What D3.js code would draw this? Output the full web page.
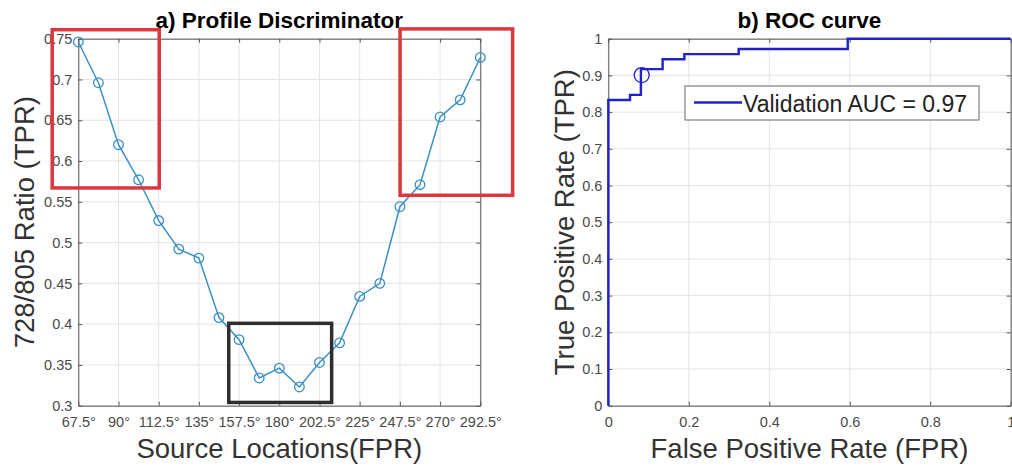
<!DOCTYPE html>
<html>
<head>
<meta charset="utf-8">
<script src="https://cdn.jsdelivr.net/npm/d3@7"></script>
<style>
  body { margin: 0; background: #fff; }
  svg { display: block; }
  text { font-family: "Liberation Sans", Arial, Helvetica, sans-serif; }
</style>
</head>
<body>
<svg id="fig" width="1012" height="468"></svg>
<script>
// ---- Panel a: 728/805 ratio per source location ----
const sourceAngles = [67.5, 78.75, 90, 101.25, 112.5, 123.75, 135, 146.25, 157.5, 168.75,
  180, 191.25, 202.5, 213.75, 225, 236.25, 247.5, 258.75, 270, 281.25, 292.5];
const ratioValues = [0.746, 0.696, 0.620, 0.577, 0.527, 0.492, 0.481, 0.408, 0.381, 0.334,
  0.346, 0.323, 0.353, 0.377, 0.434, 0.450, 0.544, 0.571, 0.654, 0.675, 0.727];
const angleTicks = [67.5, 90, 112.5, 135, 157.5, 180, 202.5, 225, 247.5, 270, 292.5];
const ratioTicks = [0.3, 0.35, 0.4, 0.45, 0.5, 0.55, 0.6, 0.65, 0.7, 0.75];

// highlighted regions (angle range, ratio range)
const regionAngles = [[52.9, 112.8], [247.6, 310.6], [151.7, 209.3]];
const regionRatios = [[0.567, 0.761], [0.558, 0.762], [0.304, 0.401]];
const regionKinds = ["edge", "edge", "centre"];

// ---- Panel b: ROC curve (step points) ----
const rocFpr = [0, 0, 0.054, 0.081, 0.135, 0.189, 0.324, 0.595, 1];
const rocTpr = [0, 0.833, 0.847, 0.917, 0.944, 0.958, 0.972, 1, 1];
const operatingFpr = [0.083];
const operatingTpr = [0.901];
const rateTicks = [0, 0.1, 0.2, 0.3, 0.4, 0.5, 0.6, 0.7, 0.8, 0.9, 1];
const fprTicks = [0, 0.2, 0.4, 0.6, 0.8, 1];
const legendLabels = ["Validation AUC = 0.97"];

const svg = d3.select("#fig");
svg.append("rect").attr("width", 1012).attr("height", 468).attr("fill", "#fff");

const AXIS = "#555", GRID = "#e4e4e4", TICKTXT = "#4a4a4a", LABEL = "#333";

function frame(g, x, y, xt, yt, xfmt, yfmt, title, xlab, ylab, ylabX) {
  const [x0, x1] = x.range(), [y1, y0] = y.range();
  // grid
  g.append("g").selectAll("line").data(xt).join("line")
    .attr("x1", d => x(d)).attr("x2", d => x(d)).attr("y1", y0).attr("y2", y1)
    .attr("stroke", GRID).attr("stroke-width", 1);
  g.append("g").selectAll("line").data(yt).join("line")
    .attr("x1", x0).attr("x2", x1).attr("y1", d => y(d)).attr("y2", d => y(d))
    .attr("stroke", GRID).attr("stroke-width", 1);

  const style = sel => {
    sel.select(".domain").attr("stroke", AXIS);
    sel.selectAll(".tick line").attr("stroke", AXIS);
    sel.selectAll(".tick text").attr("fill", TICKTXT).style("font-size", "14.5px")
      .style("font-family", '"Liberation Sans", Arial, sans-serif');
  };
  g.append("g").attr("transform", `translate(0,${y1})`)
    .call(d3.axisBottom(x).tickValues(xt).tickFormat(xfmt).tickSizeInner(-4).tickSizeOuter(0).tickPadding(11))
    .call(style);
  g.append("g").attr("transform", `translate(0,${y0})`)
    .call(d3.axisTop(x).tickValues(xt).tickFormat("").tickSizeInner(-4).tickSizeOuter(0))
    .call(style);
  g.append("g").attr("transform", `translate(${x0},0)`)
    .call(d3.axisLeft(y).tickValues(yt).tickFormat(yfmt).tickSizeInner(-4).tickSizeOuter(0).tickPadding(6))
    .call(style);
  g.append("g").attr("transform", `translate(${x1},0)`)
    .call(d3.axisRight(y).tickValues(yt).tickFormat("").tickSizeInner(-4).tickSizeOuter(0))
    .call(style);

  g.append("text").attr("x", (x0 + x1) / 2).attr("y", 28).attr("text-anchor", "middle")
    .attr("font-weight", "bold").attr("font-size", 22.5).attr("fill", "#000").text(title);
  g.append("text").attr("x", (x0 + x1) / 2).attr("y", 458).attr("text-anchor", "middle")
    .attr("font-size", 27.5).attr("fill", LABEL).text(xlab);
  g.append("text").attr("transform", `translate(${ylabX},${(y0 + y1) / 2}) rotate(-90)`)
    .attr("text-anchor", "middle").attr("font-size", 27.5).attr("fill", LABEL).text(ylab);
}

// ---------- Panel a ----------
const xa = d3.scaleLinear().domain([67.5, 292.5]).range([78.3, 480.3]);
const ya = d3.scaleLinear().domain([0.3, 0.75]).range([405.7, 38.7]);
const ga = svg.append("g");
frame(ga, xa, ya, angleTicks, ratioTicks,
  d => d3.format(".1~f")(d) + "\u00b0", d3.format(".2~f"),
  "a) Profile Discriminator", "Source Locations(FPR)", "728/805 Ratio (TPR)", 34);

const LINE_A = "#3b8fc4";
const pts = sourceAngles.map((a, i) => [a, ratioValues[i]]);
ga.append("path").datum(pts)
  .attr("fill", "none").attr("stroke", LINE_A).attr("stroke-width", 1.5)
  .attr("d", d3.line().x(d => xa(d[0])).y(d => ya(d[1])));
ga.append("g").selectAll("circle").data(pts).join("circle")
  .attr("cx", d => xa(d[0])).attr("cy", d => ya(d[1])).attr("r", 4.8)
  .attr("fill", "none").attr("stroke", LINE_A).attr("stroke-width", 1.3);

ga.append("g").selectAll("rect").data(regionAngles).join("rect")
  .attr("x", d => xa(d[0])).attr("width", d => xa(d[1]) - xa(d[0]))
  .attr("y", (d, i) => ya(regionRatios[i][1]))
  .attr("height", (d, i) => ya(regionRatios[i][0]) - ya(regionRatios[i][1]))
  .attr("fill", "none")
  .attr("stroke", (d, i) => regionKinds[i] === "edge" ? "#d9383f" : "#2e2e2e")
  .attr("stroke-width", 3.5);

// ---------- Panel b ----------
const xb = d3.scaleLinear().domain([0, 1]).range([608.3, 1010.7]);
const yb = d3.scaleLinear().domain([0, 1]).range([405.7, 38.7]);
const gb = svg.append("g");
frame(gb, xb, yb, fprTicks, rateTicks, d3.format(".1~f"), d3.format(".1~f"),
  "b) ROC curve", "False Positive Rate (FPR)", "True Positive Rate (TPR)", 574);

const LINE_B = "#2222cc";
const roc = rocFpr.map((f, i) => [f, rocTpr[i]]);
gb.append("path").datum(roc)
  .attr("fill", "none").attr("stroke", LINE_B).attr("stroke-width", 2.4)
  .attr("d", d3.line().curve(d3.curveStepAfter).x(d => xb(d[0])).y(d => yb(d[1])));
gb.append("g").selectAll("circle").data(operatingFpr).join("circle")
  .attr("cx", d => xb(d)).attr("cy", (d, i) => yb(operatingTpr[i])).attr("r", 7.5)
  .attr("fill", "none").attr("stroke", LINE_B).attr("stroke-width", 1.3);

// legend
const lg = gb.append("g").attr("transform", "translate(685,86)");
lg.append("rect").attr("width", 294).attr("height", 34)
  .attr("fill", "#fff").attr("stroke", "#666").attr("stroke-width", 1);
lg.selectAll("line").data(legendLabels).join("line")
  .attr("x1", 9).attr("x2", 57).attr("y1", 16.5).attr("y2", 16.5)
  .attr("stroke", LINE_B).attr("stroke-width", 2.4);
lg.selectAll("text").data(legendLabels).join("text")
  .attr("x", 58).attr("y", 25.5).attr("font-size", 23).attr("fill", "#222").text(d => d);
</script>
</body>
</html>
